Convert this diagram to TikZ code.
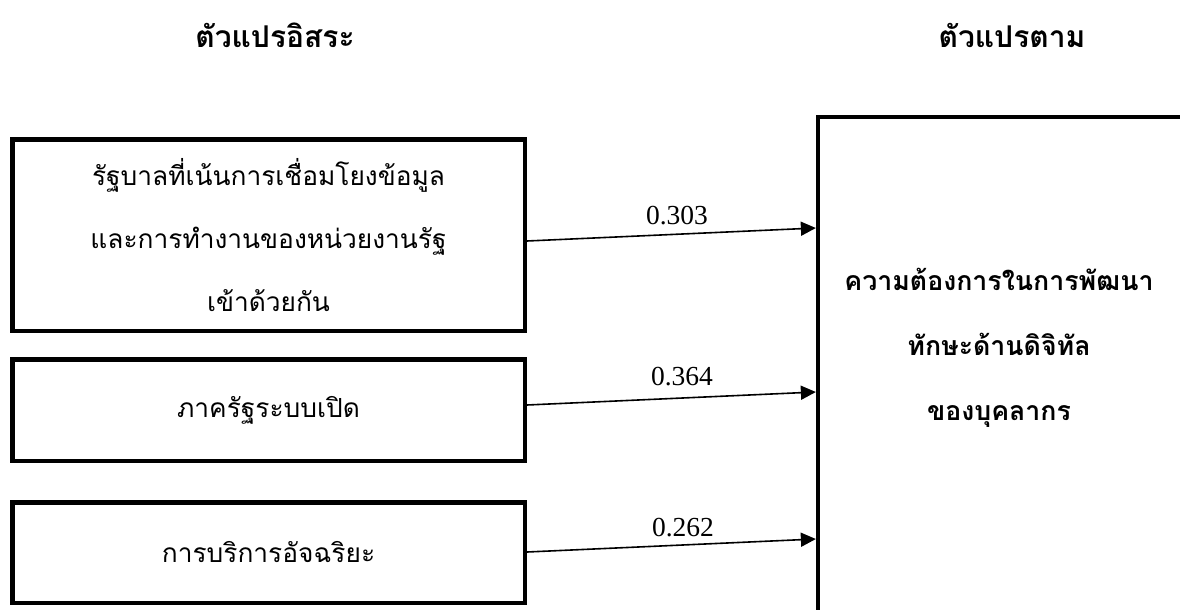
\documentclass[tikz,border=0pt]{standalone}
\usepackage{fontspec}
\setmainfont{Liberation Serif}
\newfontfamily\thai[Script=Thai]{Loma}
\usetikzlibrary{arrows.meta}
\begin{document}
\begin{tikzpicture}[x=1pt,y=-1pt,
  box/.style={draw, line width=4.5pt, rectangle, inner sep=0pt, align=center,
    font=\thai\fontsize{26.3}{63}\selectfont},
  head/.style={font=\thai\bfseries\fontsize{30}{34}\selectfont},
  dvtext/.style={align=center, font=\thai\bfseries\fontsize{26.7}{65}\selectfont},
  coef/.style={font=\fontsize{27.5}{32}\selectfont},
  link/.style={line width=1.6pt, -{Triangle[length=15pt,width=14pt]}}]
\useasboundingbox (0,0) rectangle (1180,610);
\clip (0,0) rectangle (1180,610);
\node[head] (hiv) at (275,35) {ตัวแปรอิสระ};
\node[head] (hdv) at (1012,35) {ตัวแปรตาม};
\node[box, minimum width=512.5pt, minimum height=191.5pt] (b1) at (268.5,235)
  {รัฐบาลที่เน้นการเชื่อมโยงข้อมูล\\และการทำงานของหน่วยงานรัฐ\\เข้าด้วยกัน};
\node[box, minimum width=512.5pt, minimum height=101.5pt] (b2) at (268.5,410) {ภาครัฐระบบเปิด};
\node[box, minimum width=512.5pt, minimum height=100.5pt] (b3) at (268.5,552.5) {การบริการอัจฉริยะ};
\node[draw, line width=4.5pt, rectangle, inner sep=0pt, minimum width=431.75pt, minimum height=582.75pt] (dv) at (1034,408.6) {};
\node[dvtext] (dvt) at (999,348) {ความต้องการในการพัฒนา\\ทักษะด้านดิจิทัล\\ของบุคลากร};
\draw[link] (b1.east |- 0,241) -- (dv.west |- 0,228);
\draw[link] (b2.east |- 0,405) -- (dv.west |- 0,392);
\draw[link] (b3.east |- 0,552) -- (dv.west |- 0,539);
\node[coef] (c1) at (677,216) {0.303};
\node[coef] (c2) at (682,377) {0.364};
\node[coef] (c3) at (683,528) {0.262};
\end{tikzpicture}
\end{document}
